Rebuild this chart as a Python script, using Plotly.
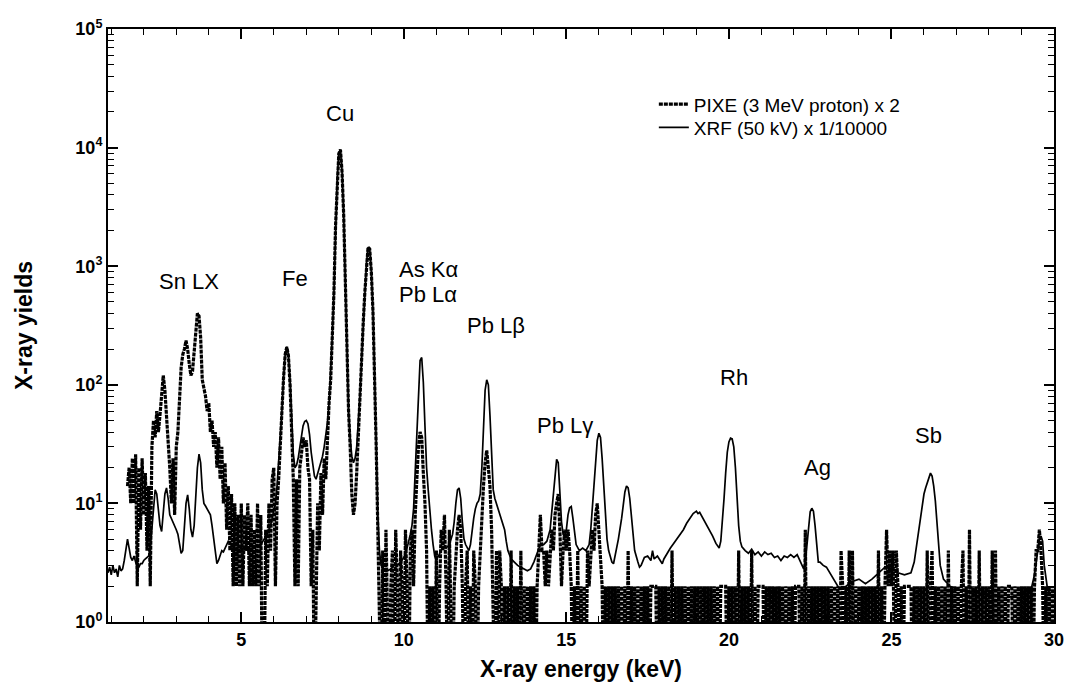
import math
import plotly.graph_objects as go

# ---------------- data ----------------
# PIXE raw counts per channel (displayed x 2), channel width 0.05 keV starting at 1.50 keV
pixe_start_kev = 1.50
pixe_channel_kev = 0.05
pixe_scale = 2
pixe_counts = [
    7, 10, 5, 12, 5, 13, 1, 10, 3, 12, 4, 9, 2, 7, 1, 15, 25, 18, 30, 20,            # 1.50-2.45
    28, 40, 60, 45, 28, 15, 10, 5, 12, 4, 15, 20, 45, 70, 90, 100, 118, 100, 75, 60,  # 2.50-3.45
    65, 100, 160, 200, 190, 125, 55, 48, 40, 30, 35, 20, 25, 15, 20, 10, 18, 8, 15, 5,  # 3.50-4.45
    11, 3, 7, 2, 6, 1, 5, 1, 4, 1, 5, 1, 4, 2, 5, 1, 4, 1, 3, 1,                    # 4.50-5.45
    5, 1, 4, 0, 0, 3, 1, 5, 2, 8, 10, 1, 5, 8, 14, 30, 57, 90, 104, 88,             # 5.50-6.45
    50, 22, 8, 1, 8, 1, 10, 13, 18, 15, 17, 10, 8, 1, 3, 0, 1, 5, 2, 9,             # 6.50-7.45
    4, 12, 8, 20, 35, 55, 130, 300, 1100, 2700, 4450, 4800, 3100, 1350, 370, 90, 30, 15, 6, 4,  # 7.50-8.45
    5, 9, 20, 32, 75, 165, 300, 525, 725, 700, 450, 210, 65, 15, 3, 1, 0, 2, 0, 3,  # 8.50-9.45
    1, 0, 1, 2, 0, 3, 1, 0, 2, 1, 0, 3, 1, 0, 2, 3, 1, 4, 8, 15,                    # 9.50-10.45
    20, 18, 9, 5, 2, 0, 1, 0, 1, 0, 2, 0, 1, 3, 2, 4, 1, 0, 3, 1,                   # 10.50-11.45
    0, 1, 2, 3, 4, 3, 1, 0, 1, 2, 0, 1, 0, 2, 1, 0, 1, 2, 3, 7,                     # 11.50-12.45
    11, 14, 10, 7, 3, 1, 0, 2, 0, 2, 1, 0, 1, 0, 1, 0, 2, 0, 1, 0,                  # 12.50-13.45
    1, 0, 2, 0, 1, 0, 1, 0, 1, 0, 1, 0, 1, 2, 4, 2, 2, 1, 2, 1,                     # 13.50-14.45
    2, 3, 2, 4, 5, 6, 3, 1, 2, 3, 2, 3, 2, 1, 0, 1, 0, 2, 0, 1,                     # 14.50-15.45
    0, 1, 0, 2, 1, 2, 3, 2, 4, 5, 3, 2, 1, 0, 1, 0, 1, 0, 1, 0,                     # 15.50-16.45
    1, 0, 1, 0, 1, 0, 1, 0, 2, 0, 1, 0, 1, 0, 1, 0, 1, 0, 1, 0,                     # 16.50-17.45
    1, 0, 1, 1, 1, 1, 0, 1, 0, 1, 0, 1, 0, 1, 0, 2, 0, 1, 0, 1,                     # 17.50-18.45
    0, 1, 0, 1, 0, 1, 0, 1, 0, 1, 0, 1, 0, 1, 0, 1, 0, 1, 0, 1,                     # 18.50-19.45
    0, 1, 0, 1, 0, 1, 1, 1, 1, 0, 1, 0, 1, 0, 1, 0, 2, 0, 1, 0,                     # 19.50-20.45
    1, 0, 1, 0, 2, 0, 1, 0, 1, 1, 1, 1, 0, 1, 0, 1, 0, 1, 0, 1,                     # 20.50-21.45
    0, 1, 0, 1, 0, 1, 0, 1, 0, 1, 0, 1, 1, 1, 0, 1, 0, 3, 0, 1,                     # 21.50-22.45
    0, 1, 0, 1, 0, 1, 0, 1, 0, 1, 0, 1, 0, 1, 0, 1, 0, 1, 0, 2,                     # 22.50-23.45
    1, 0, 1, 0, 2, 0, 2, 0, 1, 0, 1, 0, 1, 0, 1, 0, 1, 0, 1, 0,                     # 23.50-24.45
    1, 0, 2, 0, 1, 0, 1, 3, 1, 2, 1, 2, 0, 2, 1, 0, 1, 0, 1, 1,                     # 24.50-25.45
    1, 1, 1, 0, 1, 0, 1, 0, 1, 0, 1, 0, 2, 0, 1, 2, 0, 1, 0, 1,                     # 25.50-26.45
    0, 1, 0, 1, 0, 2, 0, 1, 0, 1, 0, 1, 0, 1, 2, 0, 1, 0, 3, 0,                     # 26.50-27.45
    1, 0, 1, 0, 2, 0, 1, 0, 1, 0, 1, 0, 2, 0, 2, 0, 1, 0, 1, 0,                     # 27.50-28.45
    1, 0, 1, 1, 1, 0, 1, 0, 1, 0, 1, 0, 1, 0, 1, 0, 1, 0, 1, 2,                     # 28.50-29.45
    2, 3, 2, 1, 0, 1, 0, 1, 0, 1, 0,                                                # 29.50-30.00
]

# XRF spectrum (already scaled x 1/10000)
xrf_energy = [
    0.90, 0.95, 1.00, 1.05, 1.10, 1.15, 1.20, 1.25, 1.30, 1.35,
    1.40, 1.45, 1.50, 1.55, 1.60, 1.65, 1.70, 1.75, 1.80, 1.85,
    1.90, 1.95, 2.00, 2.05, 2.10, 2.15, 2.20, 2.25, 2.30, 2.35,
    2.40, 2.45, 2.50, 2.55, 2.60, 2.65, 2.70, 2.75, 2.80, 2.85,
    2.90, 2.95, 3.00, 3.05, 3.10, 3.15, 3.20, 3.25, 3.30, 3.35,
    3.40, 3.45, 3.50, 3.55, 3.60, 3.65, 3.70, 3.75, 3.80, 3.85,
    3.90, 3.95, 4.00, 4.05, 4.10, 4.15, 4.20, 4.25, 4.30, 4.35,
    4.40, 4.45, 4.50, 4.55, 4.60, 4.65, 4.70, 4.75, 4.80, 4.85,
    4.90, 5.00, 5.20, 5.40, 5.60, 5.80, 5.90, 6.00, 6.05, 6.10,
    6.15, 6.20, 6.25, 6.30, 6.35, 6.40, 6.45, 6.50, 6.55, 6.60,
    6.65, 6.70, 6.75, 6.80, 6.85, 6.90, 6.95, 7.00, 7.05, 7.10,
    7.15, 7.20, 7.25, 7.30, 7.35, 7.40, 7.45, 7.50, 7.55, 7.60,
    7.65, 7.70, 7.75, 7.80, 7.85, 7.90, 7.95, 8.00, 8.05, 8.10,
    8.15, 8.20, 8.25, 8.30, 8.35, 8.40, 8.45, 8.50, 8.55, 8.60,
    8.65, 8.70, 8.75, 8.80, 8.85, 8.90, 8.95, 9.00, 9.05, 9.10,
    9.15, 9.20, 9.25, 9.30, 9.40, 9.50, 9.60, 9.70, 9.80, 9.90,
    10.00, 10.10, 10.20, 10.25, 10.30, 10.35, 10.40, 10.45, 10.50, 10.55,
    10.60, 10.65, 10.70, 10.75, 10.80, 10.85, 10.90, 10.95, 11.00, 11.10,
    11.20, 11.30, 11.40, 11.50, 11.55, 11.60, 11.65, 11.70, 11.75, 11.80,
    11.85, 11.90, 11.95, 12.00, 12.05, 12.10, 12.15, 12.20, 12.25, 12.30,
    12.35, 12.40, 12.45, 12.50, 12.55, 12.60, 12.65, 12.70, 12.75, 12.80,
    12.85, 12.90, 12.95, 13.00, 13.05, 13.10, 13.15, 13.20, 13.30, 13.40,
    13.50, 13.60, 13.70, 13.80, 13.90, 14.00, 14.10, 14.20, 14.30, 14.40,
    14.50, 14.55, 14.60, 14.65, 14.70, 14.75, 14.80, 14.85, 14.90, 14.95,
    15.00, 15.05, 15.10, 15.15, 15.20, 15.25, 15.30, 15.40, 15.50, 15.60,
    15.70, 15.75, 15.80, 15.85, 15.90, 15.95, 16.00, 16.05, 16.10, 16.15,
    16.20, 16.25, 16.30, 16.40, 16.45, 16.50, 16.60, 16.70, 16.75, 16.80,
    16.85, 16.90, 16.95, 17.00, 17.05, 17.10, 17.20, 17.25, 17.30, 17.40,
    17.50, 17.60, 17.65, 17.70, 17.80, 17.90, 17.95, 18.00, 18.10, 18.20,
    18.30, 18.40, 18.50, 18.60, 18.70, 18.80, 18.90, 19.00, 19.05, 19.10,
    19.20, 19.30, 19.40, 19.50, 19.60, 19.70, 19.75, 19.80, 19.85, 19.90,
    19.95, 20.00, 20.05, 20.10, 20.15, 20.20, 20.25, 20.30, 20.35, 20.40,
    20.50, 20.60, 20.70, 20.80, 20.90, 21.00, 21.10, 21.20, 21.30, 21.40,
    21.50, 21.60, 21.70, 21.80, 21.90, 22.00, 22.10, 22.20, 22.30, 22.35,
    22.40, 22.45, 22.50, 22.55, 22.60, 22.65, 22.70, 22.75, 22.80, 22.90,
    23.00, 23.10, 23.20, 23.30, 23.40, 23.60, 23.80, 24.00, 24.20, 24.40,
    24.60, 24.80, 25.00, 25.20, 25.40, 25.60, 25.70, 25.80, 25.90, 25.95,
    26.00, 26.05, 26.10, 26.15, 26.20, 26.25, 26.30, 26.35, 26.40, 26.45,
    26.50, 26.60, 26.80, 27.00, 27.50, 28.00, 28.50, 29.00, 29.30, 29.40,
    29.50, 29.55, 29.60, 29.65, 29.70, 29.80, 29.90, 30.00,
]
xrf_yield = [
    2.6, 2.9, 2.5, 3.0, 2.6, 2.8, 2.4, 3.0, 2.7, 2.8,
    3.3, 4.3, 5.0, 4.2, 3.5, 3.3, 3.6, 3.2, 2.9, 2.9,
    3.1, 3.1, 3.3, 3.4, 3.5, 3.6, 4.2, 6.5, 10, 13,
    12, 9, 6.5, 5.8, 8, 12, 13.5, 11, 8, 7.5,
    7, 6.5, 6, 5.5, 4.5, 3.8, 4, 6, 10, 11.8,
    9, 6, 5.2, 6.5, 11, 20, 26, 22, 13, 10,
    9.5, 9, 8.5, 8, 6.5, 5, 3.6, 3.1, 3.3, 3.6,
    4, 3.9, 4.2, 4.6, 4.8, 4.7, 4.3, 4, 3.8, 3.8,
    4, 4.2, 4, 4.3, 4.5, 5.5, 6.5, 9, 10, 14,
    22, 32, 60, 115, 180, 210, 180, 110, 50, 26,
    20, 21, 24, 30, 38, 45, 49, 50, 47, 38,
    27, 20, 17, 16, 18, 20, 22, 25, 30, 37,
    48, 70, 120, 260, 600, 2200, 5400, 8900, 9600, 6200,
    2700, 750, 180, 60, 35, 25, 22, 24, 30, 48,
    80, 160, 330, 600, 1050, 1450, 1400, 900, 420, 130,
    30, 8, 4, 3, 2.8, 2.7, 2.8, 3, 3, 3.2,
    3.5, 4.2, 5.5, 6.5, 9, 18, 35, 90, 160, 170,
    105, 45, 20, 13, 8, 6, 4.5, 3.6, 3.3, 3.8,
    4.3, 4.2, 4.5, 5.5, 7, 10, 13, 13.5, 11, 7,
    5, 4.5, 4.2, 4, 4.5, 6, 7.5, 9, 10, 10.5,
    12, 20, 45, 90, 110, 100, 55, 22, 13, 11,
    10, 9, 8, 7.5, 6.8, 6, 4.8, 4, 3.4, 3.2,
    3, 2.9, 2.8, 2.7, 2.8, 3.2, 3.8, 4.5, 4.5, 4.8,
    6, 8.5, 13, 19, 23.5, 22, 13, 7, 5.5, 5.2,
    6, 8, 9.2, 9.4, 7.5, 5.5, 4.5, 4, 4.2, 4,
    4.5, 6, 9, 15, 24, 34, 39, 36, 24, 13,
    7, 5, 4, 3.2, 3.1, 3.6, 5, 7.5, 10, 12.5,
    14, 13.5, 11, 8, 5.5, 4, 3.2, 2.9, 3.0, 3.5,
    3.6, 3.3, 4, 3.4, 3.6, 3.3, 3.1, 3.4, 3.8, 4.2,
    4.6, 5, 5.4, 6, 6.8, 7.5, 8.2, 8.6, 8.2, 8.4,
    7.5, 6.6, 6, 5.3, 4.6, 4.2, 4.8, 7, 11, 18,
    27, 33, 35.5, 35, 30, 20, 11, 6.5, 4.8, 4.3,
    4, 3.8, 4.1, 3.7, 3.9, 3.6, 3.9, 3.7, 3.8, 3.5,
    3.6, 3.3, 3.6, 3.5, 3.7, 3.5, 3.7, 3.2, 2.8, 3.2,
    4.5, 6.5, 8.5, 9.1, 8.6, 6.5, 4.5, 3.2, 3.2, 3.0,
    2.9, 2.6, 2.3, 2.1, 1.9, 2.0, 2.2, 2.3, 2.1, 2.3,
    2.6, 2.9, 2.8, 2.6, 2.5, 2.6, 3.2, 5, 8.5, 10.5,
    12, 13.5, 15, 16.5, 18, 17, 14, 10.5, 7, 4.5,
    3, 2.3, 2.0, 1.9, 1.8, 1.7, 1.6, 1.7, 1.9, 2.5,
    4, 5, 5.3, 4.8, 3, 1.9, 1.7, 1.7,
]

# peak labels: (text, energy keV, yield, anchor)
peak_labels = [
    ("Sn LX", 3.39, 10 ** 2.87, "center"),
    ("Fe", 6.66, 10 ** 2.895, "center"),
    ("Cu", 8.03, 10 ** 4.29, "center"),
    ("As K\u03b1", 9.80, 10 ** 2.97, "left"),
    ("Pb L\u03b1", 9.80, 10 ** 2.76, "left"),
    ("Pb L\u03b2", 11.88, 10 ** 2.50, "left"),
    ("Pb L\u03b3", 14.03, 10 ** 1.655, "left"),
    ("Rh", 20.15, 10 ** 2.06, "center"),
    ("Ag", 22.72, 10 ** 1.30, "center"),
    ("Sb", 26.14, 10 ** 1.57, "center"),
]

x_range = [0.9, 30.0]
y_decades = [0, 5]
y_tick_values = [1, 10, 100, 1000, 10000, 100000]
y_tick_labels = ["10<sup>0</sup>", "10<sup>1</sup>", "10<sup>2</sup>",
                 "10<sup>3</sup>", "10<sup>4</sup>", "10<sup>5</sup>"]
x_tick_values = [5, 10, 15, 20, 25, 30]

# ---------------- figure ----------------
pixe_energy = [pixe_start_kev + i * pixe_channel_kev for i in range(len(pixe_counts))]
# zero counts fall below the log axis: plot them at a floor below the visible range
pixe_plot = [c * pixe_scale if c > 0 else 0.2 for c in pixe_counts]
y_minor_ticks = [m * 10 ** d for d in range(5) for m in range(2, 10)]

FONT = "Liberation Sans, Arial, Helvetica, sans-serif"
NARROW = "Liberation Sans Narrow, Arial Narrow, Liberation Sans, Arial, sans-serif"

fig = go.Figure()
fig.add_trace(go.Scatter(
    x=pixe_energy, y=pixe_plot, mode="lines",
    name="PIXE (3 MeV proton) x 2", legend="legend",
    line=dict(color="black", width=3.2, dash="4px,1px"),
))
fig.add_trace(go.Scatter(
    x=xrf_energy, y=xrf_yield, mode="lines",
    name="XRF (50 kV) x 1/10000", legend="legend2",
    line=dict(color="black", width=1.7),
))

for text, ex, ey, anchor in peak_labels:
    fig.add_annotation(x=ex, y=math.log10(ey), text=text, showarrow=False,
                       xanchor=anchor, yanchor="middle",
                       font=dict(family=FONT, size=22, color="black"))

axis_common = dict(
    showline=True, linecolor="black", linewidth=2, mirror="allticks",
    ticks="inside", tickcolor="black", showgrid=False, zeroline=False,
    ticklabeloverflow="allow",
    tickfont=dict(family=FONT, size=18, color="black", weight="bold"),
)

fig.update_xaxes(
    range=x_range, tickmode="array", tickvals=x_tick_values, ticklen=10, tickwidth=1.5,
    minor=dict(ticks="inside", dtick=1, ticklen=6, tickwidth=1.2, tickcolor="black", showgrid=False),
    title=dict(text="X-ray energy (keV)", standoff=12,
               font=dict(family=NARROW, size=23, color="black", weight="bold")),
    **axis_common,
)
fig.update_yaxes(
    type="log", range=y_decades, tickmode="array", tickvals=y_tick_values,
    ticktext=y_tick_labels, ticklen=10, tickwidth=1.5,
    minor=dict(ticks="inside", tickmode="array", tickvals=y_minor_ticks, ticklen=6,
               tickwidth=1.2, tickcolor="black", showgrid=False),
    title=dict(text="X-ray yields", standoff=36,
               font=dict(family=NARROW, size=23, color="black", weight="bold")),
    **axis_common,
)

legend_style = dict(xanchor="left", yanchor="top", bgcolor="rgba(0,0,0,0)",
                    borderwidth=0, font=dict(family=FONT, size=19, color="black"))

# the page body adds an 8 px offset: figure is 8 px smaller and margins shifted
fig.update_layout(
    width=1065, height=685,
    margin=dict(l=100, r=13, t=9, b=71),
    paper_bgcolor="white", plot_bgcolor="white",
    showlegend=True,
    legend=dict(x=0.577, y=0.905, **legend_style),
    legend2=dict(x=0.577, y=0.866, **legend_style),
)

fig.write_html("out.html")
